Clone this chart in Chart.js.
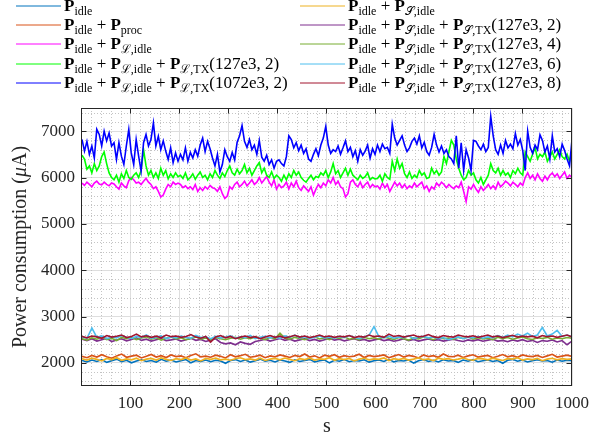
<!DOCTYPE html>
<html>
<head>
<meta charset="utf-8">
<script src="https://cdn.jsdelivr.net/npm/chart.js@4.4.0/dist/chart.umd.min.js"></script>
<style>
  body { margin: 0; background: #fff; }
</style>
</head>
<body>
<canvas id="powerChart" width="614" height="440"></canvas>
<script>
// Axis ticks
const xTicks = [100, 200, 300, 400, 500, 600, 700, 800, 900, 1000];
const yTicks = [2000, 3000, 4000, 5000, 6000, 7000];

const pIdle = [
  2050, 2020, 2060, 2030, 2070, 2010, 2045, 2080, 2025, 2055,
  2000, 2040, 2065, 2030, 2050, 2015, 2075, 2035, 2060, 2020,
  2045, 2070, 2000, 2050, 2030, 2060, 2025, 2055, 2040, 1990,
  2050, 2070, 2030, 2060, 2015, 2045, 2080, 2035, 2055, 2020,
  2060, 2040, 2010, 2065, 2030, 2050, 2075, 2020, 2045, 2060,
  2000, 2055, 2035, 2070, 2025, 2050, 2040, 2065, 2015, 2045,
  2060, 2030, 2075, 2020, 2050, 2040, 2060, 1995, 2045, 2070,
  2030, 2055, 2020, 2065, 2040, 2050, 2010, 2060, 2035, 2070,
  2025, 2045, 2060, 2030, 2050, 1990, 2055, 2075, 2035, 2060,
  2020, 2045, 2065, 2040, 2050, 2015, 2060, 2035, 2055, 2045
];
const pIdleProc = [
  2140, 2110, 2160, 2125, 2175, 2130, 2100, 2150, 2190, 2120,
  2145, 2165, 2105, 2140, 2180, 2125, 2155, 2115, 2170, 2135,
  2150, 2110, 2160, 2195, 2130, 2145, 2120, 2165, 2140, 2105,
  2175, 2130, 2155, 2185, 2120, 2140, 2165, 2110, 2150, 2130,
  2170, 2145, 2115, 2160, 2135, 2190, 2125, 2150, 2105, 2165,
  2140, 2175, 2120, 2155, 2130, 2145, 2185, 2115, 2160, 2135,
  2150, 2170, 2110, 2145, 2180, 2125, 2160, 2140, 2105, 2170,
  2135, 2155, 2120, 2190, 2140, 2130, 2165, 2115, 2150, 2175,
  2125, 2145, 2160, 2110, 2140, 2180, 2130, 2155, 2120, 2170,
  2145, 2135, 2160, 2115, 2150, 2185, 2125, 2145, 2165, 2140
];
const pLIdle = [
  5880, 5830, 5900, 5850, 5800, 5880, 5920, 5860, 5840, 5900,
  5850, 5820, 5880, 5860, 5800, 5750, 5880, 5820, 5780, 5930,
  6000, 5950, 5880, 5900, 5850, 5920, 5980, 5900, 5850, 5760,
  5800, 5700, 5580, 5620, 5750, 5850, 5800, 5900, 5850, 5880,
  5850, 5780, 5820, 5760, 5800, 5740, 5850, 5700, 5780, 5720,
  5800, 5750, 5830, 5780, 5760, 5700, 5800, 5650, 5550, 5600,
  5800, 5750, 5850, 5900, 5800, 5850, 5920, 5820, 5880, 5950,
  5850, 5900, 6000, 5880, 5950, 6020, 5900, 5820, 5950, 5750,
  5850, 5780, 5820, 5900, 5750, 5880, 5800, 5920, 5780, 5720,
  5820, 5760, 5700, 5800, 5620, 5750, 5850, 5780, 5880, 5820,
  5950, 5880, 6000, 5850, 5920, 5800, 5760, 5580, 5650, 5900,
  5950, 5850, 5800, 5900, 5780, 5850, 5900, 5780, 5850, 5800,
  5820, 5750, 5880, 5780, 5850, 5700, 5800, 5900, 5820, 5880,
  5780, 5850, 5760, 5820, 5780, 5880, 5800, 5850, 5900, 5760,
  5820, 5700, 5800, 5750, 5880, 5820, 5900, 5850, 5780, 5850,
  5800, 5760, 5820, 5780, 5900, 5700, 5480, 5800, 5750, 5850,
  5750, 5680, 5800, 5720, 5780, 5850, 5760, 5820, 5750, 5900,
  5800, 5850, 5920, 5880, 5820, 5900, 5850, 5800, 5880, 5830,
  6000, 6100, 5980, 6050, 5950, 6080, 5980, 5920, 6030, 5950,
  6050, 6100, 6020, 6080, 5980, 6050, 6120, 5980, 6050, 6000
];
const pLTx127 = [
  6480, 6400, 6180, 6250, 6100, 6300, 6150, 6250, 6450, 6550,
  6300, 6100, 6000, 5950, 6050, 5900, 6080, 5980, 6150, 6000,
  5960, 6050, 6100, 6000, 6150, 6600, 6250, 6050, 6150, 6000,
  6100, 5980, 6200, 6050, 6150, 5970, 6080, 6000, 6100, 6020,
  6050, 5980, 6100, 5950, 6000, 6080, 5960, 6050, 6120, 6000,
  6050, 5950, 6080, 6000, 6150, 6050, 5980, 6100, 6020, 6150,
  6250, 6100, 6050, 6180, 6080, 6150, 6280, 6100, 6200, 6050,
  6150, 6250, 6320, 6100, 6200, 6050, 6000, 6120, 5980, 6050,
  6000, 5920, 6050, 5950, 6080, 6000, 6150, 6050, 6120, 6000,
  5940, 5900, 5980, 6050, 5950, 6020, 6000, 6100, 6050, 6150,
  6000, 6120, 6300, 6080, 6150, 6000, 6100, 6200, 6050, 6180,
  6050, 6000, 5950, 6050, 5980, 6020, 6100, 5950, 6000, 5970,
  5980, 6050, 5920, 6080, 6000, 5960, 6350, 6150, 6400, 6200,
  6300, 6080, 6000, 6120, 5980, 6050, 6000, 6150, 6050, 6100,
  5980, 6000, 6200, 6080, 6150, 6050, 6120, 6450, 6300, 6550,
  6800, 6700, 6400, 6200, 6050, 5950, 6000, 6150, 6050, 6100,
  5950, 5880, 6000, 5850, 5950, 6050, 6300, 6150, 6100, 6200,
  6050, 6150, 6050, 6100, 6000, 6150, 6080, 6200, 6100, 6050,
  6550, 6450, 6350, 6500, 6650, 6400, 6500, 6450, 6550, 6350,
  6450, 6550, 6400, 6500, 6600, 6450, 6400, 6500, 6350, 6600
];
const pLTx1072 = [
  6820, 6570, 6780, 6500, 6680, 6420, 7040, 6930, 6680, 7000,
  6790, 6960, 6680, 6750, 6390, 6750, 6460, 6280, 6680, 7040,
  6530, 6280, 6820, 6460, 6140, 6750, 6930, 6680, 6820, 7180,
  6680, 6890, 6600, 6790, 6570, 6390, 6640, 6320, 6530, 6350,
  6500, 6380, 6640, 6350, 6540, 6420, 6600, 6460, 6700, 6850,
  6560, 6780, 6620, 6420, 6250, 6500, 6120, 6280, 6600, 6450,
  6350, 6540, 6380, 6760, 6900, 7120, 6780, 6650, 6820, 6600,
  6700, 6500, 6800, 6440, 6350, 6480, 6280, 6380, 6200, 6350,
  6380, 6300, 6250, 6450, 6900, 6820, 6640, 6750, 6580, 6700,
  6520, 6620, 6400, 6350, 6500, 6620, 6470, 6700, 6850, 7100,
  6700, 6520, 6600, 6560, 6680, 6500, 6640, 6790, 6560, 6650,
  6450, 6580, 6350, 6600, 6480, 6570, 6700, 6420, 6620, 6500,
  6700, 6560, 6720, 6620, 6650, 6520, 7150, 6850, 6700, 6800,
  6900, 6700, 6560, 6640, 6780, 6850, 6720, 6900, 6640, 6760,
  6560, 6480, 6650, 6930, 6700, 6550, 6680, 6520, 6600, 6450,
  6400, 6300, 6900, 6200, 6750, 6150, 6600, 6420, 6150, 6800,
  6780, 6680, 6600, 6720, 6560, 6650, 7320, 6900, 6600, 6500,
  6700, 6520, 6800, 6640, 6720, 6620, 6950, 6700, 6820, 6580,
  6150, 7000, 6650, 6520, 6700, 6600, 6920, 6800, 6550, 6680,
  6400, 6900, 6550, 6620, 6450, 6720, 6580, 6400, 6250, 6820
];
const pSIdle = [
  2090, 2060, 2100, 2075, 2040, 2095, 2070, 2110, 2055, 2085,
  2065, 2100, 2045, 2080, 2095, 2060, 2110, 2075, 2050, 2090,
  2070, 2105, 2060, 2085, 2040, 2095, 2075, 2100, 2065, 2080,
  2055, 2090, 2110, 2070, 2085, 2060, 2100, 2050, 2080, 2095,
  2065, 2105, 2075, 2045, 2090, 2070, 2100, 2060, 2085, 2075,
  2110, 2055, 2090, 2070, 2095, 2040, 2080, 2100, 2065, 2085,
  2075, 2105, 2050, 2090, 2070, 2095, 2060, 2080, 2110, 2065,
  2085, 2045, 2100, 2075, 2090, 2060, 2080, 2105, 2070, 2055,
  2095, 2085, 2065, 2100, 2075, 2050, 2090, 2080, 2110, 2060,
  2085, 2070, 2095, 2045, 2080, 2100, 2065, 2090, 2075, 2085
];
const pSTx2 = [
  2510, 2480, 2520, 2470, 2500, 2530, 2460, 2495, 2520, 2475,
  2505, 2540, 2485, 2510, 2470, 2500, 2525, 2480, 2495, 2515,
  2470, 2500, 2530, 2485, 2505, 2460, 2490, 2520, 2440, 2410,
  2430, 2390, 2450, 2420, 2400, 2460, 2480, 2510, 2470, 2500,
  2525, 2485, 2510, 2470, 2495, 2520, 2480, 2505, 2470, 2500,
  2530, 2490, 2510, 2475, 2500, 2520, 2485, 2505, 2470, 2495,
  2515, 2480, 2500, 2465, 2490, 2520, 2480, 2505, 2470, 2495,
  2515, 2485, 2500, 2470, 2490, 2510, 2480, 2460, 2495, 2475,
  2500, 2465, 2490, 2510, 2470, 2485, 2455, 2495, 2470, 2500,
  2460, 2485, 2440, 2480, 2465, 2495, 2450, 2480, 2390, 2470
];
const pSTx4 = [
  2520, 2490, 2540, 2510, 2560, 2500, 2530, 2480, 2550, 2520,
  2545, 2500, 2535, 2560, 2510, 2540, 2490, 2530, 2555, 2515,
  2540, 2500, 2525, 2560, 2510, 2535, 2495, 2545, 2520, 2500,
  2530, 2550, 2510, 2540, 2520, 2560, 2530, 2500, 2545, 2520,
  2640, 2530, 2510, 2550, 2525, 2500, 2540, 2560, 2515, 2535,
  2500, 2545, 2525, 2560, 2510, 2530, 2495, 2550, 2520, 2540,
  2510, 2560, 2530, 2505, 2545, 2520, 2490, 2540, 2515, 2560,
  2530, 2500, 2545, 2520, 2535, 2505, 2550, 2525, 2560, 2510,
  2540, 2515, 2530, 2500, 2550, 2520, 2545, 2510, 2535, 2560,
  2520, 2505, 2540, 2525, 2550, 2510, 2535, 2520, 2545, 2530
];
const pSTx6 = [
  2560, 2530, 2750, 2550, 2580, 2520, 2560, 2540, 2590, 2550,
  2525, 2570, 2545, 2600, 2530, 2555, 2580, 2520, 2560, 2540,
  2575, 2550, 2530, 2590, 2545, 2560, 2520, 2570, 2540, 2555,
  2580, 2530, 2560, 2545, 2590, 2520, 2550, 2570, 2540, 2560,
  2530, 2580, 2550, 2600, 2540, 2565, 2525, 2555, 2580, 2540,
  2560, 2530, 2570, 2545, 2590, 2550, 2520, 2560, 2600, 2780,
  2560, 2540, 2575, 2530, 2560, 2545, 2585, 2520, 2555, 2570,
  2540, 2560, 2520, 2545, 2500, 2530, 2560, 2520, 2550, 2540,
  2570, 2530, 2560, 2545, 2590, 2550, 2600, 2560, 2620, 2580,
  2640, 2570, 2600, 2760, 2580, 2620, 2700, 2570, 2600, 2560
];
const pSTx8 = [
  2570, 2540, 2580, 2560, 2530, 2590, 2555, 2575, 2600, 2545,
  2570, 2620, 2560, 2585, 2550, 2575, 2540, 2600, 2565, 2580,
  2550, 2570, 2610, 2555, 2530, 2570, 2450, 2560, 2590, 2540,
  2570, 2520, 2555, 2580, 2545, 2565, 2520, 2560, 2590, 2550,
  2575, 2540, 2565, 2595, 2555, 2580, 2545, 2570, 2600, 2560,
  2580, 2550, 2575, 2560, 2590, 2545, 2570, 2555, 2600, 2565,
  2580, 2550, 2620, 2570, 2590, 2555, 2580, 2600, 2560, 2575,
  2610, 2565, 2545, 2590, 2570, 2555, 2600, 2575, 2560, 2585,
  2550, 2575, 2600, 2560, 2580, 2545, 2570, 2595, 2555, 2580,
  2560, 2575, 2540, 2590, 2565, 2580, 2550, 2575, 2600, 2560
];

// Legend labels as [text, style] pieces so the subscripts can be drawn
const legendLabels = [
  [["P", "b"], ["idle", "s"]],
  [["P", "b"], ["idle", "s"], [" + ", "n"], ["P", "b"], ["proc", "s"]],
  [["P", "b"], ["idle", "s"], [" + ", "n"], ["P", "b"], ["\u2112,idle", "s"]],
  [["P", "b"], ["idle", "s"], [" + ", "n"], ["P", "b"], ["\u2112,idle", "s"], [" + ", "n"], ["P", "b"], ["\u2112,TX", "s"], ["(127e3, 2)", "n"]],
  [["P", "b"], ["idle", "s"], [" + ", "n"], ["P", "b"], ["\u2112,idle", "s"], [" + ", "n"], ["P", "b"], ["\u2112,TX", "s"], ["(1072e3, 2)", "n"]],
  [["P", "b"], ["idle", "s"], [" + ", "n"], ["P", "b"], ["\uD835\uDCAE,idle", "s"]],
  [["P", "b"], ["idle", "s"], [" + ", "n"], ["P", "b"], ["\uD835\uDCAE,idle", "s"], [" + ", "n"], ["P", "b"], ["\uD835\uDCAE,TX", "s"], ["(127e3, 2)", "n"]],
  [["P", "b"], ["idle", "s"], [" + ", "n"], ["P", "b"], ["\uD835\uDCAE,idle", "s"], [" + ", "n"], ["P", "b"], ["\uD835\uDCAE,TX", "s"], ["(127e3, 4)", "n"]],
  [["P", "b"], ["idle", "s"], [" + ", "n"], ["P", "b"], ["\uD835\uDCAE,idle", "s"], [" + ", "n"], ["P", "b"], ["\uD835\uDCAE,TX", "s"], ["(127e3, 6)", "n"]],
  [["P", "b"], ["idle", "s"], [" + ", "n"], ["P", "b"], ["\uD835\uDCAE,idle", "s"], [" + ", "n"], ["P", "b"], ["\uD835\uDCAE,TX", "s"], ["(127e3, 8)", "n"]]
];

const seriesValues = [pIdle, pIdleProc, pLIdle, pLTx127, pLTx1072, pSIdle, pSTx2, pSTx4, pSTx6, pSTx8];
const seriesColors = ["#0072BD", "#D95319", "#FF00FF", "#00FF00", "#0000FF", "#EDB120", "#7E2F8E", "#77AC30", "#4DBEEE", "#A2142F"];

const serif = '"Liberation Serif", "DejaVu Serif", serif';
const fonts = {
  b: "bold 17px " + serif,
  n: "17px " + serif,
  s: "12px " + serif,
  i: "italic 20px " + serif,
  t: "20px " + serif,
};

// samples are evenly spaced between 1 s and 1000 s
function toPoints(values) {
  return values.map((v, i) => ({ x: 1 + (i * 999) / (values.length - 1), y: v }));
}

function drawPieces(ctx, pieces, x, y) {
  pieces.forEach(([text, kind]) => {
    ctx.font = fonts[kind];
    ctx.fillText(text, x, kind === "s" ? y + 4 : y);
    x += ctx.measureText(text).width;
  });
}

function piecesWidth(ctx, pieces) {
  let w = 0;
  pieces.forEach(([text, kind]) => {
    ctx.font = fonts[kind];
    w += ctx.measureText(text).width;
  });
  return w;
}

// dotted minor grid, like matlab's "grid minor"
const minorGrid = {
  id: "minorGrid",
  beforeDatasetsDraw(chart) {
    const { ctx, chartArea: a, scales } = chart;
    ctx.save();
    ctx.strokeStyle = "#c4c4c4";
    ctx.lineWidth = 1;
    ctx.setLineDash([1, 2]);
    for (let v = 20; v < 1000; v += 20) {
      if (v % 100 === 0) continue;
      const px = Math.round(scales.x.getPixelForValue(v)) + 0.5;
      ctx.beginPath();
      ctx.moveTo(px, a.top);
      ctx.lineTo(px, a.bottom);
      ctx.stroke();
    }
    for (let v = 1600; v < 7500; v += 200) {
      if (v % 1000 === 0) continue;
      const py = Math.round(scales.y.getPixelForValue(v)) + 0.5;
      ctx.beginPath();
      ctx.moveTo(a.left, py);
      ctx.lineTo(a.right, py);
      ctx.stroke();
    }
    ctx.restore();
  },
};

// box, inward ticks, axis titles and the two column legend
const decorations = {
  id: "decorations",
  afterDraw(chart) {
    const { ctx, chartArea: a, scales } = chart;
    ctx.save();
    ctx.strokeStyle = "#262626";
    ctx.lineWidth = 1;
    const l = Math.round(a.left) - 0.5, r = Math.round(a.right) - 0.5;
    const t = Math.round(a.top) + 0.5, b = Math.round(a.bottom) - 0.5;
    ctx.strokeRect(l, t, r - l, b - t);
    ctx.beginPath();
    xTicks.forEach((v) => {
      const px = Math.round(scales.x.getPixelForValue(v)) - 0.5;
      ctx.moveTo(px, b); ctx.lineTo(px, b - 5);
      ctx.moveTo(px, t); ctx.lineTo(px, t + 5);
    });
    yTicks.forEach((v) => {
      const py = Math.round(scales.y.getPixelForValue(v)) + 0.5;
      ctx.moveTo(l, py); ctx.lineTo(l + 5, py);
      ctx.moveTo(r, py); ctx.lineTo(r - 5, py);
    });
    ctx.stroke();

    ctx.fillStyle = "#262626";
    ctx.textBaseline = "alphabetic";
    ctx.textAlign = "left";

    // x title
    ctx.font = fonts.t;
    ctx.textAlign = "center";
    ctx.fillText("s", (a.left + a.right) / 2, 432);
    ctx.textAlign = "left";

    // y title, rotated
    const yTitle = [["Power consumption (", "t"], ["\u03BC", "i"], ["A)", "t"]];
    ctx.save();
    ctx.translate(26, (a.top + a.bottom) / 2);
    ctx.rotate(-Math.PI / 2);
    drawPieces(ctx, yTitle, -piecesWidth(ctx, yTitle) / 2, 0);
    ctx.restore();

    // legend
    legendLabels.forEach((pieces, i) => {
      const col = i < 5 ? 0 : 1;
      const row = i % 5;
      const x0 = col === 0 ? 16 : 300;
      const ly = Math.round(6 + row * 19.2);
      ctx.strokeStyle = seriesColors[i];
      ctx.beginPath();
      ctx.moveTo(x0, ly);
      ctx.lineTo(x0 + 45, ly);
      ctx.stroke();
      ctx.fillStyle = "#000";
      drawPieces(ctx, pieces, x0 + 48, ly + 5);
    });
    ctx.restore();
  },
};

const ctx = document.getElementById("powerChart").getContext("2d");
let powerChart = new Chart(ctx, {
  type: "line",
  data: {
    datasets: seriesValues.map((values, i) => ({
      data: toPoints(values),
      borderColor: seriesColors[i],
      borderWidth: 1.6,
      pointRadius: 0,
      tension: 0,
      fill: false,
      order: seriesValues.length - i, // later series drawn on top
    })),
  },
  options: {
    responsive: false,
    animation: false,
    layout: {
      padding: { top: 108, right: 42, left: 0, bottom: 0 },
    },
    plugins: {
      legend: { display: false },
      tooltip: { enabled: false },
    },
    scales: {
      x: {
        type: "linear",
        min: 1,
        max: 1000,
        afterBuildTicks: (scale) => {
          scale.ticks = xTicks.map((v) => ({ value: v }));
        },
        afterFit: (scale) => {
          scale.height = 54;
        },
        ticks: {
          autoSkip: false,
          maxRotation: 0,
          padding: 7,
          color: "#262626",
          font: { family: serif, size: 17 },
          callback: (v) => String(v),
        },
        grid: { color: "#dedede", drawTicks: false },
        border: { display: false },
      },
      y: {
        min: 1500,
        max: 7500,
        afterBuildTicks: (scale) => {
          scale.ticks = yTicks.map((v) => ({ value: v }));
        },
        afterFit: (scale) => {
          scale.width = 82;
        },
        ticks: {
          padding: 7,
          color: "#262626",
          font: { family: serif, size: 17 },
          callback: (v) => String(v),
        },
        grid: { color: "#dedede", drawTicks: false },
        border: { display: false },
      },
    },
  },
  plugins: [minorGrid, decorations],
});
</script>
</body>
</html>
